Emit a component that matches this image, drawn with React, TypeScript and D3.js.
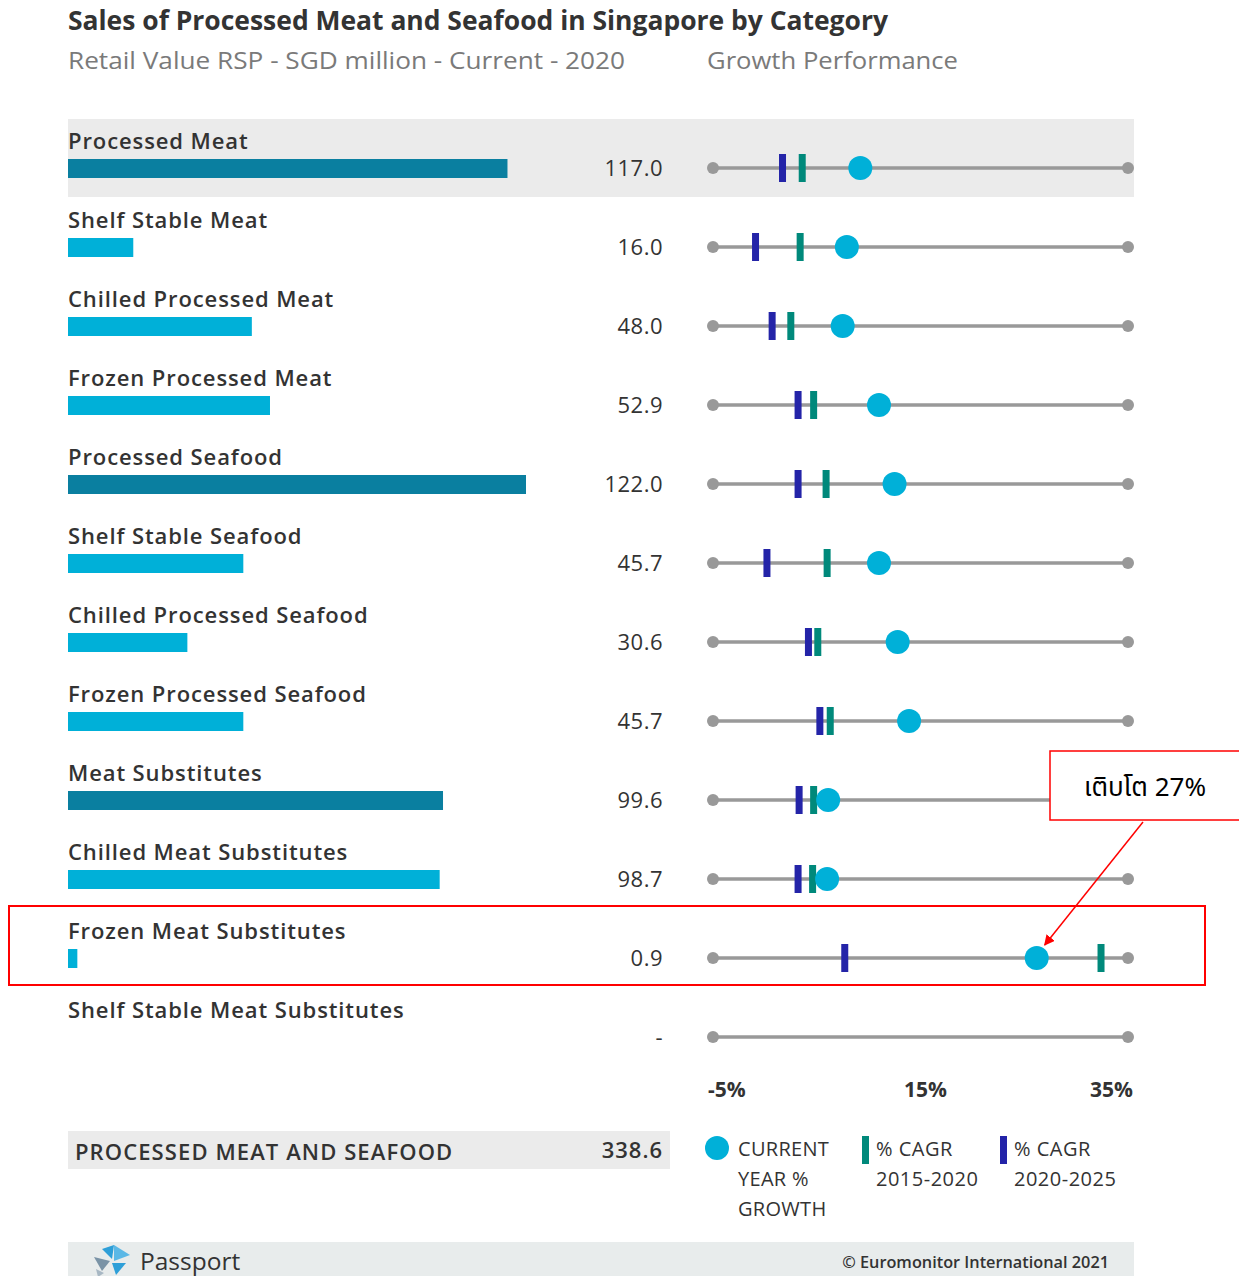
import * as d3 from 'd3';

const categories = [
  'Processed Meat',
  'Shelf Stable Meat',
  'Chilled Processed Meat',
  'Frozen Processed Meat',
  'Processed Seafood',
  'Shelf Stable Seafood',
  'Chilled Processed Seafood',
  'Frozen Processed Seafood',
  'Meat Substitutes',
  'Chilled Meat Substitutes',
  'Frozen Meat Substitutes',
  'Shelf Stable Meat Substitutes',
];
const parents = ['Processed Meat', 'Processed Seafood', 'Meat Substitutes'];
const retailValue: (number | null)[] = [117.0, 16.0, 48.0, 52.9, 122.0, 45.7, 30.6, 45.7, 99.6, 98.7, 0.9, null];
const currentGrowth: (number | null)[] = [9.2, 7.9, 7.5, 11.0, 12.5, 11.0, 12.8, 13.9, 6.1, 6.0, 26.2, null];
const cagr1520: (number | null)[] = [3.6, 3.4, 2.5, 4.7, 5.9, 6.0, 5.1, 6.3, 4.7, 4.6, 32.4, null];
const cagr2025: (number | null)[] = [1.7, -0.9, 0.7, 3.2, 3.2, 0.2, 4.2, 5.3, 3.3, 3.2, 7.7, null];
const growthTicks = [-5, 15, 35];
const totalLabel = 'PROCESSED MEAT AND SEAFOOD';
const totalValue = 338.6;

const W = 1239;
const H = 1276;
const DARK = '#0a7fa0';
const LIGHT = '#00b0d8';
const GREEN = '#00897b';
const BLUE = '#2424a8';
const TEXT = '#333';
const FONT = '"Open Sans", "Noto Sans", sans-serif';

export default function App() {
  const y = d3.scalePoint<string>().domain(categories).range([168, 1037]);
  const barW = d3.scaleLinear().domain([0, 122]).range([6, 458]);
  const x = d3.scaleLinear().domain([-5, 35]).range([713, 1128]);
  const fmt = d3.format('.1f');

  return (
    <svg width={W} height={H} style={{ position: 'absolute', left: 0, top: 0, background: '#fff' }}>
      <defs>
        <marker id="arrow" viewBox="0 0 10 10" refX="9" refY="5" markerWidth="7" markerHeight="7" orient="auto-start-reverse">
          <path d="M0,0 L10,5 L0,10 z" fill="#f00" />
        </marker>
      </defs>
      <text x={68} y={30} fontFamily={FONT} fontWeight={700} fontSize={26} fill={TEXT} textLength={820} lengthAdjust="spacingAndGlyphs">
        Sales of Processed Meat and Seafood in Singapore by Category
      </text>
      <text x={68} y={69} fontFamily={FONT} fontSize={24} fill="#7a7a7a" textLength={557} lengthAdjust="spacingAndGlyphs">
        Retail Value RSP - SGD million - Current - 2020
      </text>
      <text x={707} y={69} fontFamily={FONT} fontSize={24} fill="#7a7a7a" textLength={251} lengthAdjust="spacingAndGlyphs">
        Growth Performance
      </text>

      {categories.map((c, i) => {
        const cy = y(c)!;
        const v = retailValue[i];
        const g = currentGrowth[i];
        const a = cagr1520[i];
        const b = cagr2025[i];
        return (
          <g key={c}>
            {i === 0 && <rect x={68} y={cy - 49} width={1066} height={78} fill="#ebebeb" />}
            <text x={68} y={cy - 19} fontFamily={FONT} fontWeight={600} fontSize={22} letterSpacing={0.9} fill={TEXT}>{c}</text>
            {v !== null && (
              <rect x={68} y={cy - 9} width={barW(v)} height={19} fill={parents.includes(c) ? DARK : LIGHT} />
            )}
            <text x={663} y={cy + 8} textAnchor="end" fontFamily={FONT} fontSize={22} letterSpacing={0.5} fill={TEXT}>
              {v !== null ? fmt(v) : '-'}
            </text>
            <line x1={x(-5)} x2={x(35)} y1={cy} y2={cy} stroke="#999" strokeWidth={3.5} />
            <circle cx={x(-5)} cy={cy} r={6} fill="#999" />
            <circle cx={x(35)} cy={cy} r={6} fill="#999" />
            {b !== null && <rect x={x(b) - 3.5} y={cy - 14} width={7} height={28} fill={BLUE} />}
            {a !== null && <rect x={x(a) - 3.5} y={cy - 14} width={7} height={28} fill={GREEN} />}
            {g !== null && <circle cx={x(g)} cy={cy} r={12} fill={LIGHT} />}
          </g>
        );
      })}

      {growthTicks.map((t, i) => (
        <text
          key={t}
          x={i === 0 ? x(t) - 5 : i === growthTicks.length - 1 ? x(t) + 5 : x(t) + 5}
          y={1097}
          textAnchor={i === 0 ? 'start' : i === growthTicks.length - 1 ? 'end' : 'middle'}
          fontFamily={FONT}
          fontWeight={700}
          fontSize={21}
          fill={TEXT}
        >
          {t}%
        </text>
      ))}

      <rect x={68} y={1131} width={602} height={38} fill="#ebebeb" />
      <text x={75} y={1160} fontFamily={FONT} fontWeight={600} fontSize={22} letterSpacing={1.1} fill={TEXT}>{totalLabel}</text>
      <text x={663} y={1158} textAnchor="end" fontFamily={FONT} fontWeight={600} fontSize={22} letterSpacing={1} fill={TEXT}>{fmt(totalValue)}</text>

      <circle cx={717} cy={1148} r={12} fill={LIGHT} />
      {['CURRENT', 'YEAR %', 'GROWTH'].map((t, i) => (
        <text key={t} x={738} y={1156 + i * 30} fontFamily={FONT} fontSize={20} letterSpacing={0.3} fill={TEXT}>{t}</text>
      ))}
      <rect x={862} y={1136} width={7} height={28} fill={GREEN} />
      {['% CAGR', '2015-2020'].map((t, i) => (
        <text key={t} x={876} y={1156 + i * 30} fontFamily={FONT} fontSize={20} letterSpacing={0.5} fill={TEXT}>{t}</text>
      ))}
      <rect x={1000} y={1136} width={7} height={28} fill={BLUE} />
      {['% CAGR', '2020-2025'].map((t, i) => (
        <text key={t} x={1014} y={1156 + i * 30} fontFamily={FONT} fontSize={20} letterSpacing={0.5} fill={TEXT}>{t}</text>
      ))}

      <rect x={68} y={1242} width={1066} height={34} fill="#e8ecec" />
      <g transform="translate(92,1245)">
        <polygon points="10,4 22,0 20,14" fill="#2e9fd8" />
        <polygon points="22,0 38,10 22,16" fill="#5bb8e6" />
        <polygon points="2,12 18,16 10,26" fill="#7a93a6" />
        <polygon points="20,18 34,18 24,30" fill="#2e9fd8" />
        <polygon points="4,24 12,28 6,32" fill="#a8b8c4" />
      </g>
      <text x={140} y={1270} fontFamily={FONT} fontSize={24.5} fill={TEXT}>Passport</text>
      <text x={1109} y={1268} textAnchor="end" fontFamily={FONT} fontWeight={600} fontSize={16.3} fill={TEXT}>
        © Euromonitor International 2021
      </text>

      <rect x={9} y={906} width={1196} height={79} fill="none" stroke="#f00" strokeWidth={2} />
      <rect x={1050} y={751} width={200} height={69} fill="#fff" stroke="#f00" strokeWidth={1.5} />
      <text x={1145} y={796} textAnchor="middle" fontFamily={'"Noto Sans Thai", "Noto Sans", "DejaVu Sans", sans-serif'} fontSize={26} fill="#000">
        เติบโต 27%
      </text>
      <line x1={1143} y1={822} x2={x(currentGrowth[10]!) + 8} y2={945} stroke="#f00" strokeWidth={1.5} markerEnd="url(#arrow)" />
    </svg>
  );
}
